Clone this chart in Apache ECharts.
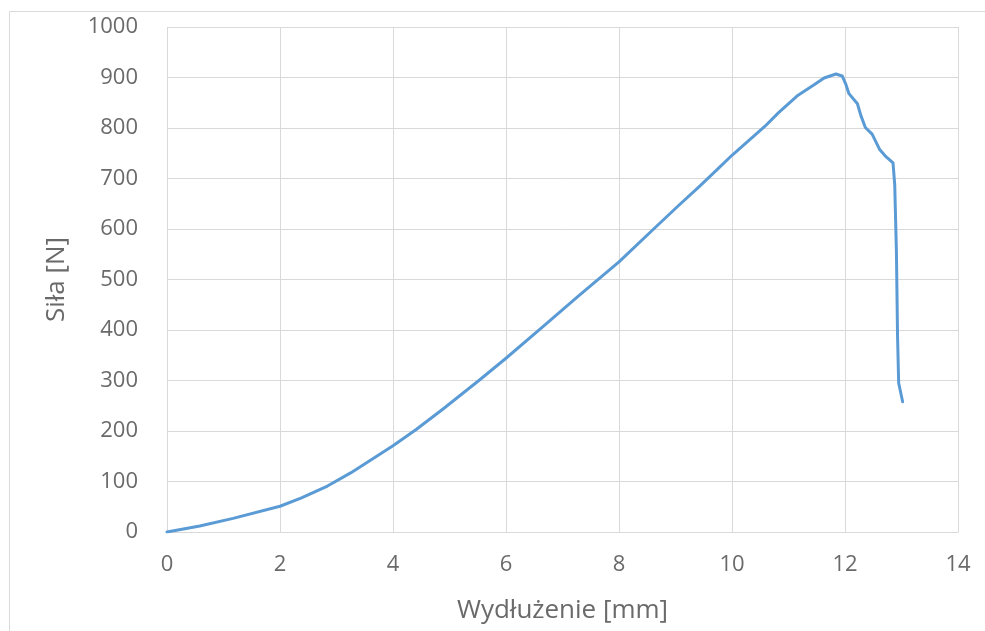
<!DOCTYPE html>
<html>
<head>
<meta charset="utf-8">
<script src="https://cdn.jsdelivr.net/npm/echarts@6/dist/echarts.min.js"></script>
<style>
  html, body { margin: 0; padding: 0; background: #ffffff; }
  #chart { width: 985px; height: 631px; }
</style>
</head>
<body>
<div id="chart"></div>
<script>
// Tensile test: elongation [mm] vs force [N]
const elongation = [0, 0.58, 1.17, 2, 2.37, 2.84, 3.25, 4, 4.41, 4.88, 5.52, 6, 6.69, 7.28, 8, 8.66, 9.06, 9.42, 9.74, 10, 10.58, 10.82, 11.17, 11.46, 11.63, 11.84, 11.95, 12.01, 12.07, 12.22, 12.28, 12.36, 12.48, 12.61, 12.71, 12.85, 12.88, 12.91, 12.93, 12.95, 13.02];
const force = [0, 12, 27, 51, 67, 91, 117, 171, 203, 243, 300, 344, 410, 467, 535, 605, 647, 684, 718, 746, 803, 830, 865, 886, 899, 907, 903, 888, 868, 848, 825, 801, 788, 758, 745, 731, 688, 555, 388, 295, 258];

const xTitle = 'Wydłużenie [mm]';
const yTitle = 'Siła [N]';

const points = elongation.map((x, i) => [x, force[i]]);

const textColor = '#6a6a6a';
const gridColor = '#d9d9d9';
const fontFamily = '"Open Sans", sans-serif';

const chart = echarts.init(document.getElementById('chart'), null, { renderer: 'canvas' });
chart.setOption({
  backgroundColor: '#ffffff',
  animation: false,
  graphic: [{
    type: 'rect',
    shape: { x: 9.5, y: 11.5, width: 990, height: 640 },
    style: { fill: 'none', stroke: gridColor, lineWidth: 1 },
    silent: true
  }],
  grid: { left: 167, right: 27, top: 27, bottom: 99, containLabel: false },
  xAxis: {
    type: 'value',
    min: 0, max: 14, interval: 2,
    name: xTitle,
    nameLocation: 'middle',
    nameGap: 66,
    nameTextStyle: { color: textColor, fontSize: 26, fontFamily },
    axisLine: { show: true, lineStyle: { color: gridColor, width: 1 } },
    axisTick: { show: false },
    axisLabel: { color: textColor, fontSize: 22, fontFamily, margin: 22 },
    splitLine: { show: true, lineStyle: { color: gridColor, width: 1 } }
  },
  yAxis: {
    type: 'value',
    min: 0, max: 1000, interval: 100,
    name: yTitle,
    nameLocation: 'middle',
    nameGap: 97,
    nameRotate: 90,
    nameTextStyle: { color: textColor, fontSize: 26, fontFamily },
    axisLine: { show: false },
    axisTick: { show: false },
    axisLabel: { color: textColor, fontSize: 22, fontFamily, margin: 29, formatter: (v) => String(v) },
    splitLine: { show: true, lineStyle: { color: gridColor, width: 1 } }
  },
  series: [{
    type: 'line',
    data: points,
    showSymbol: false,
    symbol: 'none',
    smooth: false,
    lineStyle: { color: '#5b9bd5', width: 3, join: 'round', cap: 'round' },
    silent: true
  }]
});
</script>
</body>
</html>
